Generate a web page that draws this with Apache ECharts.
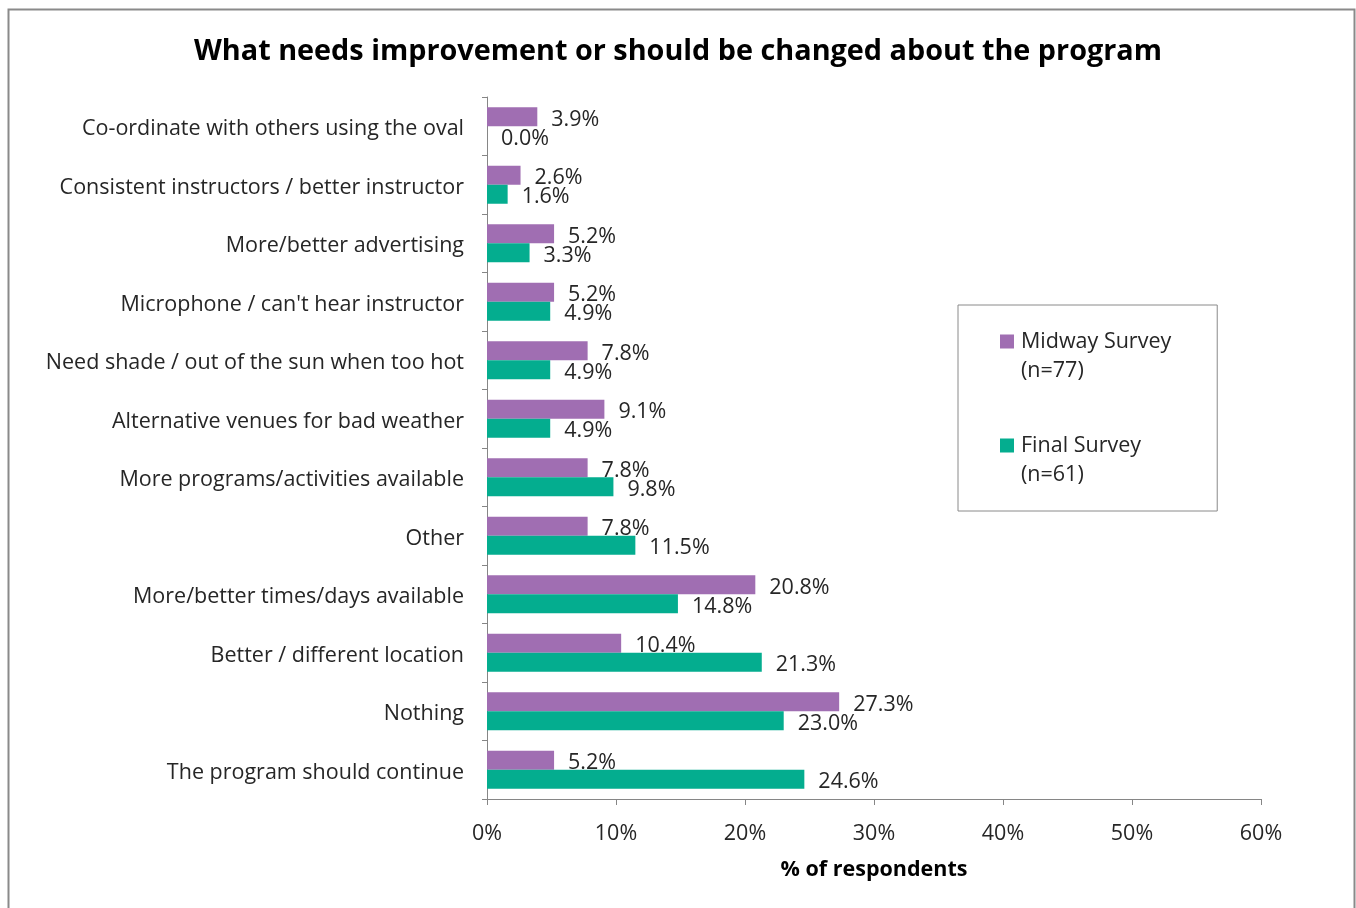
<!DOCTYPE html>
<html>
<head>
<meta charset="utf-8">
<script src="https://cdn.jsdelivr.net/npm/echarts@6/dist/echarts.min.js"></script>
<style>
  html, body { margin: 0; padding: 0; background: #fff; }
  #chart { width: 1356px; height: 908px; }
</style>
</head>
<body>
<div id="chart"></div>
<script>
// Response categories, top to bottom
const categories = [
  'Co-ordinate with others using the oval',
  'Consistent instructors / better instructor',
  'More/better advertising',
  "Microphone / can't hear instructor",
  'Need shade / out of the sun when too hot',
  'Alternative venues for bad weather',
  'More programs/activities available',
  'Other',
  'More/better times/days available',
  'Better / different location',
  'Nothing',
  'The program should continue'
];
// Percent of respondents per survey
const midwayValues = [3.9, 2.6, 5.2, 5.2, 7.8, 9.1, 7.8, 7.8, 20.8, 10.4, 27.3, 5.2];
const finalValues  = [0.0, 1.6, 3.3, 4.9, 4.9, 4.9, 9.8, 11.5, 14.8, 21.3, 23.0, 24.6];
const seriesNames = ['Midway Survey\n(n=77)', 'Final Survey\n(n=61)'];
const xTicks = [0, 10, 20, 30, 40, 50, 60];

const FONT = '"Open Sans", Lato, sans-serif';
const FS = 21.5;
const PURPLE = '#A06EB2';
const TEAL = '#04AD8F';
const AXIS = '#868686';

// Legend key: a square at the top-left of a taller box, so it lines up with the first text line
const KEY_ICON = 'path://M0,0h14v14h-14zM16,43h0.01v0.01h-0.01z';

const chart = echarts.init(document.getElementById('chart'));

const labelStyle = {
  show: true,
  position: 'right',
  distance: 14,
  fontFamily: FONT,
  fontSize: FS,
  color: '#262626',
  offset: [0, 3],
  formatter: p => p.value.toFixed(1) + '%'
};

chart.setOption({
  animation: false,
  backgroundColor: '#fff',
  title: {
    text: 'What needs improvement or should be changed about the program',
    left: 'center',
    top: 32,
    textStyle: { fontFamily: FONT, fontSize: 28.8, fontWeight: 'bold', color: '#000' }
  },
  graphic: [{
    type: 'rect',
    shape: { x: 8.5, y: 9.5, width: 1346, height: 920 },
    style: { fill: 'none', stroke: '#8a8a8a', lineWidth: 2 },
    silent: true
  }],
  legend: {
    orient: 'vertical',
    left: 958,
    top: 305,
    padding: [22, 46, 22, 42],
    itemGap: 46,
    itemWidth: 16,
    itemHeight: 43,
    borderColor: '#8a8a8a',
    borderWidth: 1,
    icon: KEY_ICON,
    textStyle: {
      fontFamily: FONT, fontSize: FS, color: '#262626',
      lineHeight: 29
    },
    data: seriesNames
  },
  grid: { left: 487, right: 95, top: 97, bottom: 109, containLabel: false },
  xAxis: {
    type: 'value',
    min: 0, max: 60, interval: 10,
    name: '% of respondents',
    nameLocation: 'middle',
    nameGap: 60,
    nameTextStyle: { fontFamily: FONT, fontSize: FS, fontWeight: 'bold', color: '#000' },
    axisLine: { show: true, lineStyle: { color: AXIS, width: 1 } },
    axisTick: { show: true, length: 6, lineStyle: { color: AXIS } },
    axisLabel: {
      margin: 24,
      fontFamily: FONT, fontSize: FS, color: '#262626',
      formatter: v => (xTicks.includes(v) ? v + '%' : '')
    },
    splitLine: { show: false }
  },
  yAxis: {
    type: 'category',
    inverse: true,
    data: categories,
    axisLine: { show: true, lineStyle: { color: AXIS, width: 1 } },
    axisTick: { show: true, length: 5, lineStyle: { color: AXIS } },
    axisLabel: {
      margin: 23,
      formatter: v => '{c|' + v + '}',
      rich: {
        c: { fontFamily: FONT, fontSize: FS, color: '#262626', padding: [6, 0, 0, 0] }
      }
    }
  },
  series: [
    {
      name: seriesNames[0],
      type: 'bar',
      data: midwayValues,
      barWidth: 19,
      barGap: '0%',
      itemStyle: { color: PURPLE },
      label: labelStyle
    },
    {
      name: seriesNames[1],
      type: 'bar',
      data: finalValues,
      barWidth: 19,
      barGap: '0%',
      itemStyle: { color: TEAL },
      label: labelStyle
    }
  ]
});
</script>
</body>
</html>
